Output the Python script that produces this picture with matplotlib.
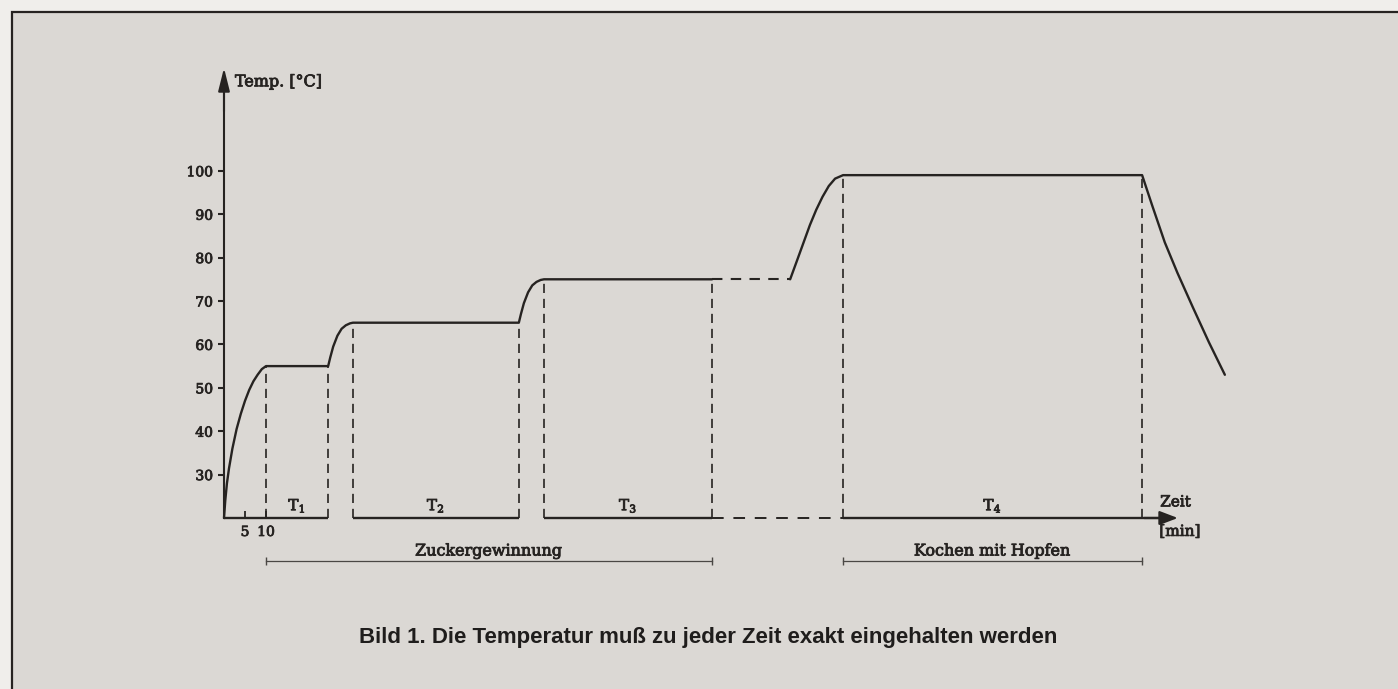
import matplotlib
matplotlib.use("Agg")
import matplotlib.pyplot as plt
import matplotlib.patheffects as pe
from matplotlib.patches import Rectangle

# ------------------------------------------------------------
# Maischprogramm: Temperaturverlauf über der Zeit
# ------------------------------------------------------------

# Rasten: Beginn / Ende [min] und Haltetemperatur [°C]
rest_start = [10, 30.7, 76.2, 147.4]
rest_end   = [24.8, 70.2, 116.2, 218.6]
rest_temp  = [55, 65, 75, 99]
rest_names = [r"$\mathrm{T}_1$", r"$\mathrm{T}_2$", r"$\mathrm{T}_3$", r"$\mathrm{T}_4$"]

# Aufheizen zwischen den Rasten
ramp0_t = [0, 0.3, 0.7, 1.2, 2, 3, 4, 5, 6, 7, 8, 9, 10]
ramp0_T = [20, 24, 28, 31.5, 36, 40.5, 44, 47, 49.5, 51.5, 53, 54.3, 55]
ramp1_t = [24.8, 25.3, 26, 27, 28, 29, 30, 30.7]
ramp1_T = [55, 57, 59.5, 62, 63.6, 64.4, 64.85, 65]
ramp2_t = [70.2, 70.7, 71.4, 72.4, 73.4, 74.4, 75.4, 76.2]
ramp2_T = [65, 67, 69.5, 72, 73.6, 74.4, 74.85, 75]
ramp3_t = [134.8, 136.5, 138, 139.5, 141, 142.5, 144, 145.5, 147.4]
ramp3_T = [75, 79.5, 83.5, 87.5, 91, 94, 96.5, 98.2, 99]

# Abkühlen nach dem Kochen
cool_t = [218.6, 221, 224, 227, 230.7, 234.5, 238.3]
cool_T = [99, 92, 83.5, 76.5, 68.5, 60.5, 53]

# Achsen
t_zero, T_zero = 0, 20
t_axis_end = 227.1
T_axis_end = 123.7
y_ticks = [30, 40, 50, 60, 70, 80, 90, 100]
x_ticks = [5, 10]

# Abschnitte unter der Zeitachse
phase_names = ["Zuckergewinnung", "Kochen mit Hopfen"]
phase_start = [10, 147.4]
phase_end   = [116.2, 218.6]

caption = "Bild 1. Die Temperatur muß zu jeder Zeit exakt eingehalten werden"

INK   = "#262321"
PAPER = "#dbd8d4"
SERIF = "DejaVu Serif"
plt.rcParams["mathtext.fontset"] = "dejavuserif"
# Druckschrift etwas kräftiger
HEAVY = [pe.withStroke(linewidth=0.6, foreground=INK)]

# Pixelraster des Blattes: 4.2 px/min, 4.34 px/°C
W, H = 1398, 689
X0, Y0 = 224, 518
PX_T, PX_C = 4.2, 4.34

fig = plt.figure(figsize=(W / 100, H / 100), dpi=100, facecolor="#f0eeeb")
fig.patches.append(Rectangle((12 / W, -0.1), 1.2, 1.1 - 12 / H,
                             transform=fig.transFigure, facecolor=PAPER,
                             edgecolor=INK, lw=1.6, zorder=-10))

ax = fig.add_axes([0, 0, 1, 1])
ax.set_facecolor("none")
ax.set_xlim(-X0 / PX_T, (W - X0) / PX_T)
ax.set_ylim(T_zero - (H - Y0) / PX_C, T_zero + Y0 / PX_C)

# --- Achsen -------------------------------------------------
for s in ("top", "right"):
    ax.spines[s].set_visible(False)
ax.spines["left"].set_position(("data", t_zero))
ax.spines["left"].set_bounds(T_zero, T_axis_end - 3)
ax.spines["left"].set_linewidth(1.5)
ax.spines["left"].set_color(INK)
ax.spines["bottom"].set_position(("data", T_zero))
ax.spines["bottom"].set_visible(False)

ax.set_yticks(y_ticks)
ax.set_yticklabels([str(v) for v in y_ticks])
ax.tick_params(axis="y", direction="out", length=4, width=1.5, pad=4,
               colors=INK, labelsize=10)
ax.set_xticks(x_ticks)
ax.set_xticklabels([str(v) for v in x_ticks])
ax.tick_params(axis="x", direction="in", length=5, width=1.3, pad=5,
               colors=INK, labelsize=10)
for lab in ax.get_xticklabels() + ax.get_yticklabels():
    lab.set_fontfamily(SERIF)
    lab.set_path_effects(HEAVY)

ax.annotate("", xy=(t_zero, T_axis_end), xytext=(t_zero, T_axis_end - 10),
            arrowprops=dict(arrowstyle="-|>,head_length=1.4,head_width=0.35",
                            color=INK, lw=1.5, shrinkA=0, shrinkB=0))
ax.text(t_zero + 2.6, T_axis_end - 3.2, "Temp. [°C]", family=SERIF,
        fontsize=11.5, color=INK, va="center", ha="left", path_effects=HEAVY)

# Zeitachse: durchgezogen unter den Rasten, gestrichelt in der Pause
base_segments = [(t_zero, rest_end[0]), (rest_start[1], rest_end[1]),
                 (rest_start[2], rest_end[2]), (rest_start[3], t_axis_end - 3)]
for a, b in base_segments:
    ax.plot([a, b], [T_zero, T_zero], color=INK, lw=1.7, solid_capstyle="butt")
ax.plot([rest_end[2], rest_start[3]], [T_zero, T_zero], color=INK, lw=1.4,
        ls=(0, (6, 5)))
ax.annotate("", xy=(t_axis_end, T_zero), xytext=(t_axis_end - 8, T_zero),
            arrowprops=dict(arrowstyle="-|>,head_length=1.1,head_width=0.42",
                            color=INK, lw=1.6, shrinkA=0, shrinkB=0))
ax.text(t_axis_end - 4.2, T_zero + 3.6, "Zeit", family=SERIF, fontsize=11,
        color=INK, va="center", ha="left", path_effects=HEAVY)
ax.text(t_axis_end - 4.4, T_zero - 3.2, "[min]", family=SERIF, fontsize=11,
        color=INK, va="center", ha="left", path_effects=HEAVY)

# --- Temperaturkurve ----------------------------------------
part1_t = ramp0_t + ramp1_t + ramp2_t + [rest_end[2]]
part1_T = ramp0_T + ramp1_T + ramp2_T + [rest_temp[2]]
part2_t = ramp3_t + cool_t
part2_T = ramp3_T + cool_T
for tt, TT in ((part1_t, part1_T), (part2_t, part2_T)):
    ax.plot(tt, TT, color=INK, lw=1.7, solid_joinstyle="round",
            solid_capstyle="round")
ax.plot([rest_end[2], ramp3_t[0]], [rest_temp[2], rest_temp[2]], color=INK,
        lw=1.5, ls=(0, (5, 4)))

# Rastgrenzen
ax.vlines(rest_start + rest_end, T_zero, rest_temp + rest_temp, colors=INK,
          lw=1.2, linestyles=(0, (5.5, 3.5)))
for a, b, name in zip(rest_start, rest_end, rest_names):
    ax.text((a + b) / 2, T_zero + 1.8, name, family=SERIF, fontsize=11,
            color=INK, ha="center", va="baseline", path_effects=HEAVY)

# Abschnitte
for a, b, name in zip(phase_start, phase_end, phase_names):
    ax.plot([a, b], [10, 10], color="#4a4744", lw=0.9)
    ax.vlines([a, b], 9.1, 10.9, colors="#4a4744", lw=1.0)
    ax.text((a + b) / 2, 12.4, name, family=SERIF, fontsize=11.5,
            color=INK, ha="center", va="center", path_effects=HEAVY)

fig.text(708 / W, 1 - 638 / H, caption,
         family=["Liberation Sans", "DejaVu Sans"],
         fontweight="bold", fontsize=16, color="#1f1d1c",
         ha="center", va="center")

fig.savefig("out.png", dpi=100, facecolor=fig.get_facecolor())
print("Saved: out.png")
